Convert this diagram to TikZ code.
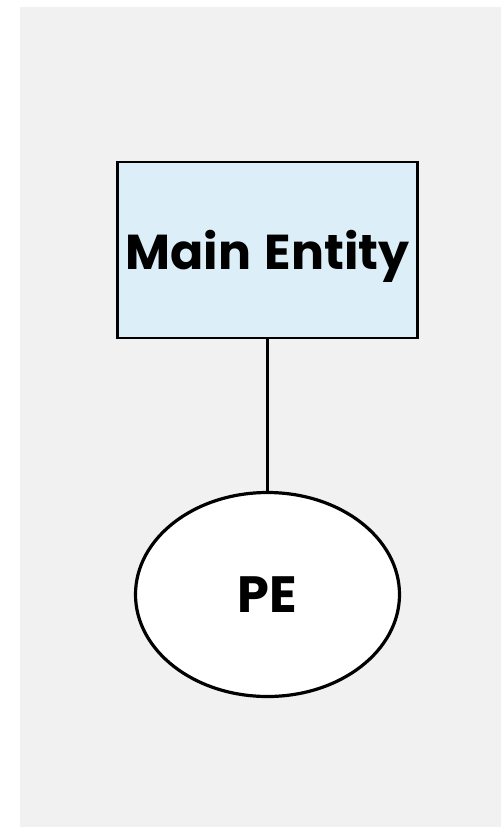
\documentclass[tikz,border=0pt]{standalone}
\usepackage{fontspec}
\setmainfont{Poppins}
\usetikzlibrary{shapes,positioning}
\definecolor{bggray}{HTML}{F1F1F1}
\definecolor{entblue}{HTML}{DCEEF8}

\begin{document}
\begin{tikzpicture}[x=1pt, y=-1pt]
  \tikzstyle{entity} = [draw=black, line width=2.8pt, fill=entblue, minimum width=300pt, minimum height=176pt, inner sep=0pt, text depth=0pt]
  \tikzstyle{attrib} = [ellipse, draw=black, line width=3.2pt, fill=white, minimum width=264pt, minimum height=204pt, inner sep=0pt, text depth=0pt]

  \def\X{267.5};

  % background
  \useasboundingbox (0, 0) rectangle (501, 827);
  \fill[bggray] (20, 7) rectangle (501, 827);

  % nodes
  \node[entity] (main) at (\X, 250) {\fontsize{49}{58}\selectfont\bfseries Main\hspace{3pt} Entity};
  \node[attrib] (pe) at (\X, 594.5) {\fontsize{51}{60}\selectfont\bfseries PE};

  % connection line
  \draw[line width=2.2pt] (main) -- (pe);

\end{tikzpicture}
\end{document}
